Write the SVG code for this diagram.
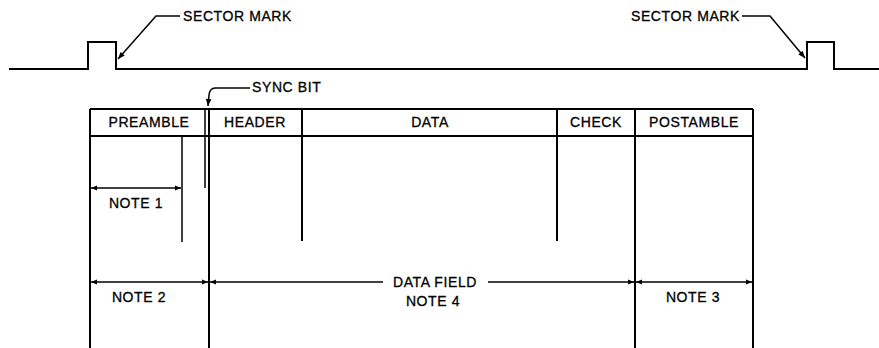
<svg xmlns="http://www.w3.org/2000/svg" width="879" height="348" viewBox="0 0 879 348">
  <style>
    .ln { stroke: #000; stroke-width: 2; fill: none; }
    .thin { stroke: #000; stroke-width: 1.5; fill: none; }
    .dim { stroke: #000; stroke-width: 1.5; fill: none; marker-start: url(#ah); marker-end: url(#ah); }
    .dim-s { stroke: #000; stroke-width: 1.5; fill: none; marker-start: url(#ah); }
    .dim-e { stroke: #000; stroke-width: 1.5; fill: none; marker-end: url(#ah); }
    .lbl { font-family: "Liberation Sans", Arial, sans-serif; font-size: 14px; letter-spacing: 0.6px; fill: #000; stroke: #000; stroke-width: 0.3; }
    .mid { text-anchor: middle; }
  </style>
  <defs>
    <marker id="ah" viewBox="0 0 10 10" refX="10" refY="5" markerWidth="9" markerHeight="6" markerUnits="userSpaceOnUse" orient="auto-start-reverse">
      <path d="M0,1 L10,5 L0,9 Z" fill="#000"/>
    </marker>
    <marker id="lead" viewBox="0 0 10 10" refX="10" refY="5" markerWidth="10" markerHeight="7" markerUnits="userSpaceOnUse" orient="auto">
      <path d="M0,1 L10,5 L0,9 Z" fill="#000"/>
    </marker>
  </defs>

  <!-- read signal with the two sector pulses -->
  <g id="waveform">
    <path class="ln" d="M9,69 H88 V42 H116 V69 H807 V42 H834 V69 H879"/>
  </g>

  <g id="sector-mark-left">
    <path class="thin" d="M180,16 H156 L118,59" marker-end="url(#lead)"/>
    <text class="lbl" x="183" y="21">SECTOR MARK</text>
  </g>

  <g id="sector-mark-right">
    <path class="thin" d="M742,16 H770 L805,58" marker-end="url(#lead)"/>
    <text class="lbl" x="740" y="21" text-anchor="end">SECTOR MARK</text>
  </g>

  <g id="sync-bit">
    <path class="thin" d="M250,88 H215 Q210,88 209,95 L208,106" marker-end="url(#lead)"/>
    <text class="lbl" x="252" y="92">SYNC BIT</text>
  </g>

  <!-- sector layout table -->
  <g id="table">
    <path class="ln" d="M90,109 H753 M90,136 H753"/>
    <path class="ln" d="M90,109 V348 M209,109 V348 M635,109 V348 M753,109 V348"/>
    <path class="ln" d="M302,109 V241 M557,109 V241"/>
    <path class="thin" d="M205,109 V188 M182,136 V242"/>
  </g>

  <g id="preamble"><text class="lbl mid" x="149" y="127">PREAMBLE</text></g>
  <g id="header"><text class="lbl mid" x="255" y="127">HEADER</text></g>
  <g id="data"><text class="lbl mid" x="430" y="127">DATA</text></g>
  <g id="check"><text class="lbl mid" x="596" y="127">CHECK</text></g>
  <g id="postamble"><text class="lbl mid" x="694" y="127">POSTAMBLE</text></g>

  <!-- dimension lines -->
  <g id="connectors">
    <line class="dim" x1="91" y1="188" x2="181" y2="188"/>
    <line class="dim" x1="91" y1="282" x2="208" y2="282"/>
    <line class="dim-s" x1="210" y1="282" x2="383" y2="282"/>
    <line class="dim-e" x1="488" y1="282" x2="634" y2="282"/>
    <line class="dim" x1="636" y1="282" x2="752" y2="282"/>
  </g>

  <g id="note1"><text class="lbl mid" x="136" y="208">NOTE 1</text></g>
  <g id="note2"><text class="lbl mid" x="139" y="302">NOTE 2</text></g>
  <g id="data-field">
    <text class="lbl mid" x="435" y="287">DATA FIELD</text>
    <text class="lbl mid" x="433" y="306">NOTE 4</text>
  </g>
  <g id="note3"><text class="lbl mid" x="693" y="302">NOTE 3</text></g>
</svg>
